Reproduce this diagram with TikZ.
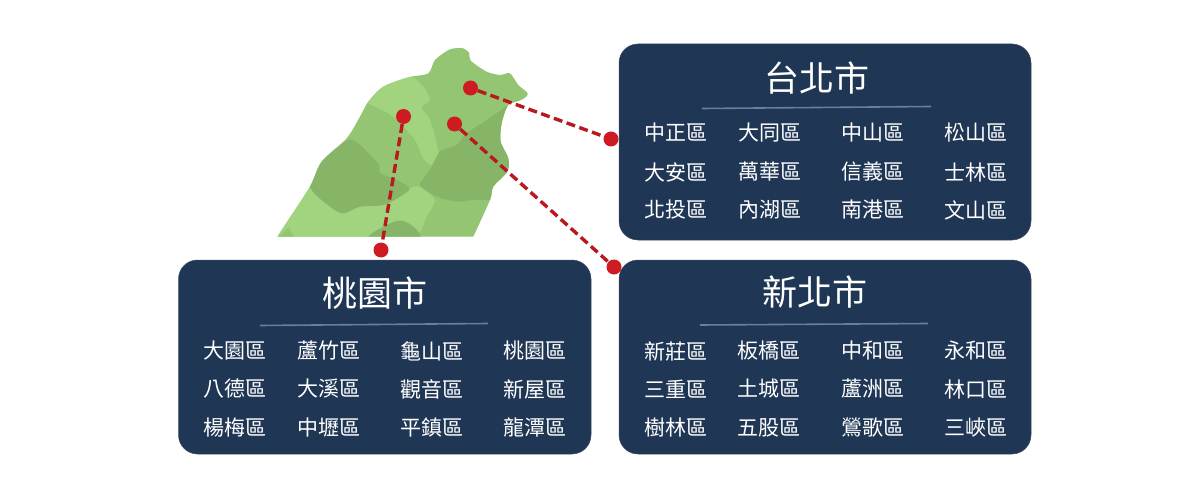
\documentclass[tikz,border=0pt]{standalone}
\usepackage{fontspec}
\setmainfont{Noto Sans CJK TC}
\definecolor{navy}{HTML}{1F3655}
\definecolor{rulec}{HTML}{6480A6}
\definecolor{gmid}{HTML}{93C572}
\definecolor{glight}{HTML}{A2D480}
\definecolor{gdark}{HTML}{86B567}
\definecolor{pin}{HTML}{CE1B22}
\tikzset{
  panel/.style={fill=navy,draw=navy!70!gray,line width=0.5pt,rounded corners=19pt},
  title/.style={text=white,font=\fontsize{35}{35}\selectfont,inner sep=0pt},
  item/.style={text=white,font=\fontsize{21}{21}\selectfont,inner sep=0pt},
  sep/.style={draw=rulec,line width=1.6pt},
  dot/.style={circle,fill=pin,minimum size=15pt,inner sep=0pt},
  link/.style={draw=pin!90!black,line width=3.4pt,dash pattern=on 9pt off 4.5pt},
  mapc/.style={x=0.3333pt,y=-0.3333pt,shift={(260pt,-30pt)}}
}
\newcommand{\mapoutline}{(52,620) -- plot[smooth,tension=0.45] coordinates {(52,620) (85,570) (150,470) (185,395) (260,325) (300,260) (325,215) (370,170) (445,142) (505,130) (525,90) (570,58) (610,55) (628,70) (632,92) (680,125) (720,135) (750,130) (775,165) (803,190) (790,207) (745,225) (725,280) (722,335) (745,385) (742,425) (700,470) (690,510) (640,620)} -- cycle}
\begin{document}
\begin{tikzpicture}[x=1pt,y=-1pt]
\useasboundingbox (0,0) rectangle (1200,500);
\fill[white] (0,0) rectangle (1200,500);
% panels
\draw[panel] (619,44) rectangle (1031,240);
\draw[panel] (178.5,260) rectangle (591,454);
\draw[panel] (619,260) rectangle (1031,454);
% map
\begin{scope}[mapc]
  \fill[gmid] \mapoutline;
  \clip \mapoutline;
  \fill[glight] plot[smooth cycle,tension=0.5] coordinates {(300,200) (370,150) (445,135) (490,170) (510,210) (485,232) (510,270) (530,340) (535,385) (515,405) (490,385) (465,330) (420,280) (385,250) (325,220)};
  \fill[glight] plot[smooth cycle,tension=0.4] coordinates {(30,640) (85,570) (150,470) (210,530) (250,550) (300,530) (370,525) (420,500) (448,475) (480,470) (525,510) (500,560) (470,625) (400,650)};
  \fill[gdark] plot[smooth cycle,tension=0.5] coordinates {(150,470) (185,395) (265,330) (300,345) (330,375) (358,405) (360,430) (400,445) (448,475) (420,500) (370,525) (300,530) (250,550) (210,530)};
  \fill[gdark] plot[smooth cycle,tension=0.6] coordinates {(325,625) (370,590) (420,572) (460,590) (480,625) (400,640)};
  \fill[gmid] (52,625) -- (85,592) -- (105,625) -- cycle;
  \fill[gdark] plot[smooth,tension=0.4] coordinates {(770,210) (745,225) (680,270) (620,310) (590,345) (540,365) (510,420) (480,465) (530,500) (590,515) (640,510) (700,510)} -- (800,510) -- (800,210) -- cycle;
\end{scope}
% titles
\node[title] (tptitle) at (817,78) {台北市};
\node[title] (tytitle) at (375,293) {桃園市};
\node[title] (nttitle) at (815,292) {新北市};
% separators
\coordinate (tpa) at (702,108.5); \coordinate (tpb) at (931,106.5);
\coordinate (tya) at (260,325.5); \coordinate (tyb) at (488,323.5);
\coordinate (nta) at (700,325); \coordinate (ntb) at (928,323.5);
\draw[sep] (tpa) -- (tpb);
\draw[sep] (tya) -- (tyb);
\draw[sep] (nta) -- (ntb);
% items: Taipei
\foreach \t/\px/\py/\n in {
 中正區/676/133/tp1,大同區/769.5/133/tp2,中山區/872.5/133/tp3,松山區/975.5/133/tp4,
 大安區/676/172/tp5,萬華區/769.5/172/tp6,信義區/872.5/172/tp7,士林區/975.5/172/tp8,
 北投區/676/210/tp9,內湖區/769.5/210/tp10,南港區/872.5/210/tp11,文山區/975.5/210/tp12,
 大園區/235/351/ty1,蘆竹區/329/351/ty2,龜山區/432/351/ty3,桃園區/534.5/351/ty4,
 八德區/235/389/ty5,大溪區/329/389/ty6,觀音區/432/389/ty7,新屋區/534.5/389/ty8,
 楊梅區/235/428/ty9,中壢區/329/428/ty10,平鎮區/432/428/ty11,龍潭區/534.5/428/ty12,
 新莊區/675.5/351/nt1,板橋區/769/351/nt2,中和區/872.5/351/nt3,永和區/975.5/351/nt4,
 三重區/675.5/389/nt5,土城區/769/389/nt6,蘆洲區/872.5/389/nt7,林口區/975.5/389/nt8,
 樹林區/675.5/428/nt9,五股區/769/428/nt10,鶯歌區/872.5/428/nt11,三峽區/975.5/428/nt12}
 {\node[item] (\n) at (\px,\py) {\t};}
% pins
\node[dot] (a1) at (470.5,88) {};
\node[dot] (a2) at (611,139) {};
\node[dot] (b1) at (454.5,124) {};
\node[dot] (b2) at (614,267) {};
\node[dot] (c1) at (403.5,116.5) {};
\node[dot] (c2) at (381,250) {};
\draw[link] (a1) -- (a2);
\draw[link] (b1) -- (b2);
\draw[link] (c1) -- (c2);
\end{tikzpicture}
\end{document}
